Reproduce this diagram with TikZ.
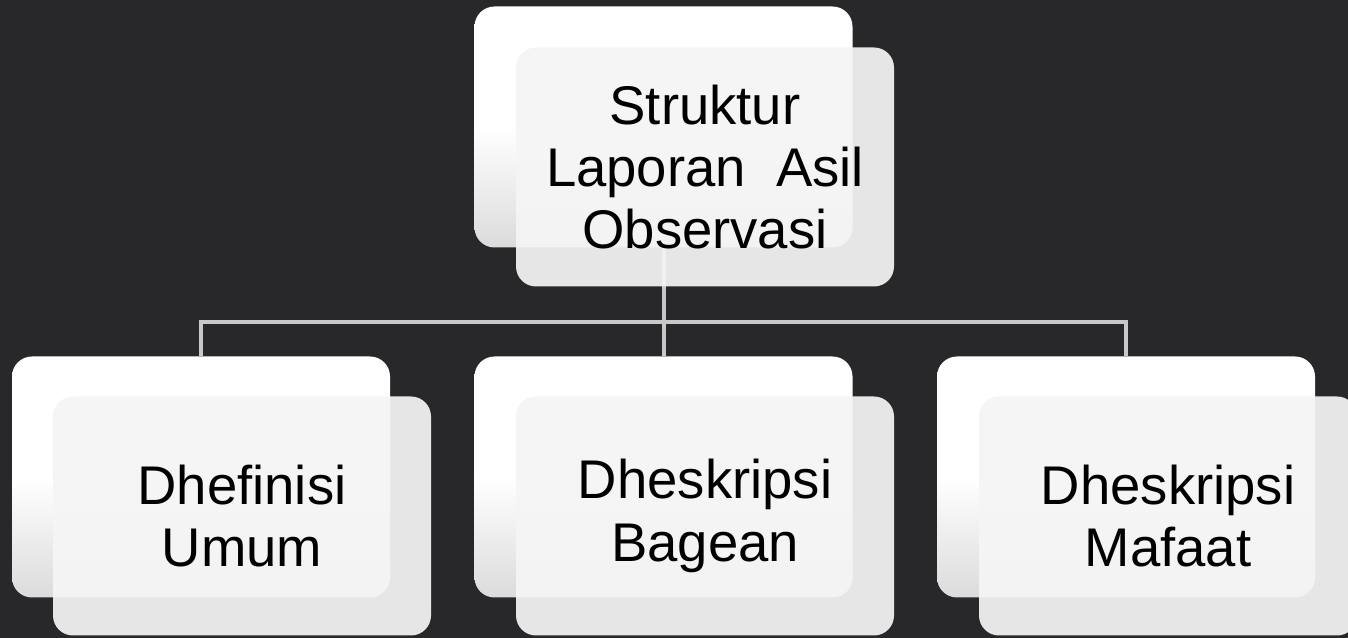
\documentclass[tikz,border=0pt]{standalone}
\usepackage{fontspec}
\setmainfont{Liberation Sans}
\definecolor{slate}{RGB}{40,40,42}
\definecolor{wire}{RGB}{200,200,200}
\tikzset{
  backcard/.style={rounded corners=0.4cm, minimum width=7.56cm, minimum height=4.82cm,
    top color=white, bottom color=white!86!black, middle color=white, inner sep=0pt},
  frontcard/.style={rounded corners=0.4cm, minimum width=7.56cm, minimum height=4.78cm,
    fill=white!96!black, fill opacity=0.93, text opacity=1, inner sep=0pt, align=center,
    font=\fontsize{31}{35.5}\selectfont},
  wireline/.style={draw=wire, line width=0.08cm}
}
\begin{document}
\begin{tikzpicture}
    \fill[slate] (0,0) rectangle (26.96,12.76);
    \useasboundingbox (0,0) rectangle (26.96,12.76);
    % cards behind
    \node[backcard] (topb) at (13.27,10.22) {};
    \node[backcard] (leftb) at (4.02,3.22) {};
    \node[backcard] (midb) at (13.27,3.22) {};
    \node[backcard] (rightb) at (22.52,3.22) {};
    % tree lines
    \draw[wireline] (topb.south) -- ++(0,-1.48) coordinate (fork);
    \draw[wireline] (fork) -| (leftb.north);
    \draw[wireline] (fork) -- (midb.north);
    \draw[wireline] (fork) -| (rightb.north);
    % cards in front
    \node[frontcard] (topf) at (14.1,9.42) {Struktur\\Laporan\ \ Asil\\Observasi};
    \node[frontcard] (leftf) at (4.84,2.44) {Dhefinisi\\Umum};
    \node[frontcard] (midf) at (14.1,2.44) {Dheskripsi\\Bagean};
    \node[frontcard] (rightf) at (23.36,2.44) {Dheskripsi\\Mafaat};
\end{tikzpicture}
\end{document}
